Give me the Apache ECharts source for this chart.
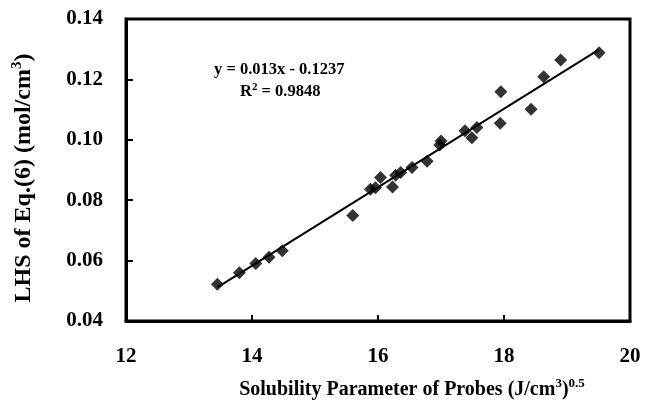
<!DOCTYPE html>
<html><head><meta charset="utf-8">
<script src="https://cdn.jsdelivr.net/npm/echarts@6/dist/echarts.min.js"></script>
<style>html,body{margin:0;padding:0;background:#fff}#c{width:645px;height:407px}</style>
</head><body><div id="c"></div>
<script>
var xValues = [13.45,13.80,14.06,14.27,14.48,15.60,15.88,15.96,16.04,16.23,16.28,16.36,16.54,16.78,16.98,17.00,17.38,17.49,17.57,17.94,17.95,18.43,18.63,18.90,19.51];
var yValues = [0.0522,0.0560,0.0590,0.0611,0.0633,0.0749,0.0836,0.0841,0.0875,0.0844,0.0883,0.0892,0.0908,0.0929,0.0983,0.0996,0.1030,0.1007,0.1041,0.1055,0.1159,0.1101,0.1209,0.1264,0.1288];
var fitSlope = 0.013, fitIntercept = -0.1237;
var fitRange = [13.45, 19.5];
var xTicks = [12,14,16,18,20];
var yTicks = [0.04,0.06,0.08,0.10,0.12,0.14];

var pts = xValues.map(function(x,i){return [x,yValues[i]];});
var fitLine = fitRange.map(function(x){return [x, fitSlope*x+fitIntercept];});
var F = '"Liberation Serif", "Times New Roman", serif';
var chart = echarts.init(document.getElementById('c'));
chart.setOption({
  animation:false,
  grid:{left:126,right:15,top:19,bottom:86,show:true,borderColor:'#000',borderWidth:3},
  xAxis:{type:'value',min:xTicks[0],max:xTicks[xTicks.length-1],interval:2,
    axisLine:{lineStyle:{color:'#000',width:3}},
    axisTick:{inside:true,length:6,lineStyle:{color:'#000',width:2}},
    splitLine:{show:false},
    axisLabel:{color:'#000',fontFamily:F,fontWeight:'bold',fontSize:21,margin:25}},
  yAxis:{type:'value',min:yTicks[0],max:yTicks[yTicks.length-1],interval:0.02,
    axisLine:{lineStyle:{color:'#000',width:3}},
    axisTick:{inside:true,length:7,lineStyle:{color:'#000',width:2}},
    splitLine:{show:false},
    axisLabel:{color:'#000',fontFamily:F,fontWeight:'bold',fontSize:21,margin:23,
      formatter:function(v){return v.toFixed(2);}}},
  series:[
    {type:'line',data:fitLine,symbol:'none',lineStyle:{color:'#000',width:2},z:2},
    {type:'scatter',data:pts,symbol:'diamond',symbolSize:13,itemStyle:{color:'#000'},z:3}
  ],
  graphic:[
    {type:'text',left:214,top:61,style:{text:'y = 0.013x - 0.1237',font:'bold 16.5px '+F,fill:'#000'}},
    {type:'text',left:240,top:82,style:{text:'{n|R}{s|2}{n| = 0.9848}',fill:'#000',
      rich:{n:{font:'bold 16.5px '+F,fill:'#000'},s:{font:'bold 11px '+F,fill:'#000',padding:[0,0,8,0]}}}},
    {type:'text',x:412,y:390,style:{text:'{n|Solubility Parameter of Probes (J/cm}{s|3}{n|)}{s|0.5}',
      align:'center',verticalAlign:'middle',fill:'#000',
      rich:{n:{font:'bold 20px '+F,fill:'#000'},s:{font:'bold 13px '+F,fill:'#000',padding:[0,0,13,0]}}}},
    {type:'text',x:24,y:178,rotation:Math.PI/2,style:{text:'{n|LHS of Eq.(6) (mol/cm}{s|3}{n|)}',
      align:'center',verticalAlign:'middle',fill:'#000',
      rich:{n:{font:'bold 24px '+F,fill:'#000'},s:{font:'bold 15px '+F,fill:'#000',padding:[0,0,14,0]}}}}
  ]
});
</script></body></html>
